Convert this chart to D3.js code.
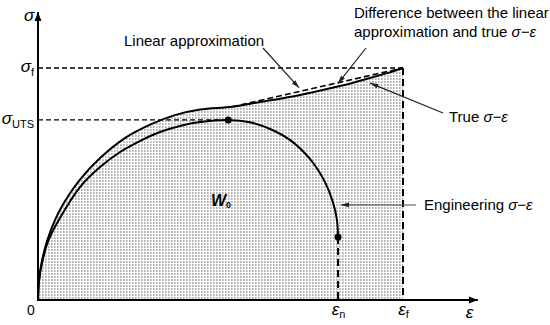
<!DOCTYPE html>
<html>
<head>
<meta charset="utf-8">
<script src="https://cdn.jsdelivr.net/npm/d3@7"></script>
<style>
  body { margin: 0; background: #fff; }
  svg { display: block; font-family: "Liberation Sans", Arial, sans-serif; }
</style>
</head>
<body>
<script>
// DEFINE VARIABLES
// strain normalised by eps_f, stress normalised by sigma_f
var engStrain = [0, 0.0027, 0.011, 0.027, 0.060, 0.115, 0.170, 0.225, 0.279, 0.334, 0.389, 0.444, 0.521, 0.581, 0.636, 0.690, 0.745, 0.786, 0.808, 0.819, 0.822];
var engStress = [0, 0.080, 0.159, 0.250, 0.353, 0.487, 0.573, 0.638, 0.685, 0.724, 0.750, 0.767, 0.776, 0.766, 0.737, 0.690, 0.608, 0.509, 0.422, 0.345, 0.272];

var trueStrain = [0, 0.0027, 0.011, 0.027, 0.060, 0.115, 0.170, 0.238, 0.307, 0.375, 0.444, 0.532, 0.608, 0.718, 0.827, 0.910, 0.964, 1.0];
var trueStress = [0, 0.086, 0.170, 0.265, 0.388, 0.519, 0.612, 0.698, 0.756, 0.797, 0.821, 0.833, 0.853, 0.884, 0.922, 0.957, 0.981, 1.0];

var linStrain = [0.532, 1.0];
var linStress = [0.833, 1.0];

var sigmaUTS = 0.776;
var sigmaF = 1.0;
var epsN = 0.822;
var epsF = 1.0;

var stressTicks = [sigmaF, sigmaUTS];
var stressTickLabels = [['σ', 'f'], ['σ', 'UTS']];
var strainTicks = [epsN, epsF];
var strainTickLabels = [['ε', 'n'], ['ε', 'f']];

var svgWidth = 550;
var svgHeight = 325;

function zip(xs, ys) {
  return xs.map(function(d, i) { return [d, ys[i]]; });
}

document.addEventListener('DOMContentLoaded', function() {

  var svg = d3.select('body')
    .append('svg')
    .attr('width', svgWidth)
    .attr('height', svgHeight);

  var x = d3.scaleLinear().domain([0, 1]).range([38, 403]);
  var y = d3.scaleLinear().domain([0, 1]).range([300, 68]);

  var defs = svg.append('defs');

  // stipple used for the shaded work area
  var pat = defs.append('pattern')
    .attr('id', 'dots')
    .attr('patternUnits', 'userSpaceOnUse')
    .attr('width', 3)
    .attr('height', 3);
  pat.append('rect')
    .attr('width', 1.6).attr('height', 2)
    .attr('fill', '#b0b0b0');

  defs.append('marker')
    .attr('id', 'axisHead')
    .attr('viewBox', '0 0 10 10')
    .attr('refX', 10).attr('refY', 5)
    .attr('markerUnits', 'userSpaceOnUse')
    .attr('markerWidth', 9).attr('markerHeight', 9)
    .attr('orient', 'auto')
    .append('path').attr('d', 'M0,1 L10,5 L0,9 z').attr('fill', '#000');

  defs.append('marker')
    .attr('id', 'noteHead')
    .attr('viewBox', '0 0 10 10')
    .attr('refX', 10).attr('refY', 5)
    .attr('markerUnits', 'userSpaceOnUse')
    .attr('markerWidth', 8).attr('markerHeight', 8)
    .attr('orient', 'auto')
    .append('path').attr('d', 'M0,2 L10,5 L0,8 z').attr('fill', '#222');

  var line = d3.line()
    .x(function(d) { return x(d[0]); })
    .y(function(d) { return y(d[1]); })
    .curve(d3.curveCatmullRom.alpha(0.5));

  var area = d3.area()
    .x(function(d) { return x(d[0]); })
    .y0(y(0))
    .y1(function(d) { return y(d[1]); })
    .curve(d3.curveCatmullRom.alpha(0.5));

  var trueData = zip(trueStrain, trueStress);
  var engData = zip(engStrain, engStress);

  // shaded work area under the true curve
  svg.append('path')
    .attr('d', area(trueData))
    .attr('fill', 'url(#dots)');

  // dashed guide lines
  svg.append('line')
    .attr('x1', x(0)).attr('x2', x(epsF))
    .attr('y1', y(sigmaF)).attr('y2', y(sigmaF))
    .attr('stroke', '#000').attr('stroke-width', 1.3)
    .attr('stroke-dasharray', '5,3');
  svg.append('line')
    .attr('x1', x(0)).attr('x2', x(engStrain[12]))
    .attr('y1', y(sigmaUTS)).attr('y2', y(sigmaUTS))
    .attr('stroke', '#000').attr('stroke-width', 1.3)
    .attr('stroke-dasharray', '5,3');
  svg.append('line')
    .attr('x1', x(epsF)).attr('x2', x(epsF))
    .attr('y1', y(sigmaF)).attr('y2', y(0))
    .attr('stroke', '#000').attr('stroke-width', 2)
    .attr('stroke-dasharray', '7,4');
  svg.append('line')
    .attr('x1', x(epsN)).attr('x2', x(epsN))
    .attr('y1', y(engStress[engStress.length - 1])).attr('y2', y(0))
    .attr('stroke', '#000').attr('stroke-width', 2)
    .attr('stroke-dasharray', '7,4');

  // linear approximation
  svg.append('path')
    .attr('d', d3.line()
      .x(function(d) { return x(d[0]); })
      .y(function(d) { return y(d[1]); })(zip(linStrain, linStress)))
    .attr('fill', 'none')
    .attr('stroke', '#000').attr('stroke-width', 1.6)
    .attr('stroke-dasharray', '6,3');

  // curves
  svg.append('path')
    .attr('d', line(trueData))
    .attr('fill', 'none').attr('stroke', '#000').attr('stroke-width', 2);
  svg.append('path')
    .attr('d', line(engData))
    .attr('fill', 'none').attr('stroke', '#000').attr('stroke-width', 2);

  // points: UTS and necking end
  svg.selectAll('circle')
    .data([engData[12], engData[engData.length - 1]])
    .enter()
    .append('circle')
    .attr('cx', function(d) { return x(d[0]); })
    .attr('cy', function(d) { return y(d[1]); })
    .attr('r', 3.5)
    .attr('fill', '#000');

  // axes with arrows
  svg.append('line')
    .attr('x1', x(0)).attr('y1', y(0) + 1)
    .attr('x2', x(0)).attr('y2', y(1.24))
    .attr('stroke', '#000').attr('stroke-width', 2)
    .attr('marker-end', 'url(#axisHead)');
  svg.append('line')
    .attr('x1', x(0) - 1).attr('y1', y(0))
    .attr('x2', x(1.205)).attr('y2', y(0))
    .attr('stroke', '#000').attr('stroke-width', 2)
    .attr('marker-end', 'url(#axisHead)');

  var yAxis = svg.append('g')
    .attr('transform', 'translate(' + x(0) + ',0)')
    .call(d3.axisLeft(y).tickValues(stressTicks).tickSize(0).tickPadding(4).tickFormat(''));
  yAxis.select('.domain').remove();
  yAxis.selectAll('.tick text').each(function(d, i) {
    var t = d3.select(this).attr('font-family', null).attr('font-size', null).attr('dy', '0.35em');
    t.append('tspan').attr('font-style', 'italic').attr('font-size', 17).text(stressTickLabels[i][0]);
    t.append('tspan').attr('font-size', 11).attr('dy', '0.35em').text(stressTickLabels[i][1]);
  }).attr('fill', '#000');

  var xAxis = svg.append('g')
    .attr('transform', 'translate(0,' + y(0) + ')')
    .call(d3.axisBottom(x).tickValues(strainTicks).tickSize(0).tickPadding(8).tickFormat(''));
  xAxis.select('.domain').remove();
  xAxis.selectAll('.tick text').each(function(d, i) {
    var t = d3.select(this).attr('font-family', null).attr('font-size', null);
    t.append('tspan').attr('font-style', 'italic').attr('font-size', 17).text(strainTickLabels[i][0]);
    t.append('tspan').attr('font-size', 11).attr('dy', '0.3em').text(strainTickLabels[i][1]);
  }).attr('fill', '#000');

  // axis names and origin
  svg.append('text').attr('x', x(0) - 14).attr('y', y(1.24) + 9)
    .attr('font-size', 17).attr('font-style', 'italic').text('σ');
  svg.append('text').attr('x', x(1.205) - 12).attr('y', y(0) + 18)
    .attr('font-size', 17).attr('font-style', 'italic').text('ε');
  svg.append('text').attr('x', x(0) - 11).attr('y', y(0) + 15)
    .attr('font-size', 14).text('0');

  // W0
  var w = svg.append('text').attr('x', 211).attr('y', 206)
    .attr('font-size', 16).attr('font-weight', 'bold').attr('font-style', 'italic');
  w.append('tspan').text('W');
  w.append('tspan').attr('font-size', 9).attr('font-style', 'normal').attr('dy', 2).text('0');

  // annotations
  var notes = [
    { tip: [0.715, 0.915], from: [263, 48] },
    { tip: [0.822, 0.934], from: [366, 48] },
    { tip: [0.910, 0.935], from: [443, 113] },
    { tip: [0.830, 0.410], from: [416, 205] }
  ];
  svg.selectAll('.note')
    .data(notes)
    .enter()
    .append('line')
    .attr('class', 'note')
    .attr('x1', function(d) { return d.from[0]; })
    .attr('y1', function(d) { return d.from[1]; })
    .attr('x2', function(d) { return x(d.tip[0]); })
    .attr('y2', function(d) { return y(d.tip[1]); })
    .attr('stroke', function(d, i) { return i === 3 ? '#555' : '#222'; })
    .attr('stroke-width', 1.2)
    .attr('marker-end', 'url(#noteHead)');

  function label(xp, yp, plain, greek) {
    var t = svg.append('text').attr('x', xp).attr('y', yp).attr('font-size', 15).attr('fill', '#000');
    t.append('tspan').text(plain);
    if (greek) t.append('tspan').attr('font-style', 'italic').text(greek);
  }
  label(124, 46, 'Linear approximation');
  label(354, 18, 'Difference between the linear');
  label(354, 37, 'approximation and true ', 'σ−ε');
  label(449, 122, 'True ', 'σ−ε');
  label(424, 210, 'Engineering ', 'σ−ε');

});
</script>
</body>
</html>
